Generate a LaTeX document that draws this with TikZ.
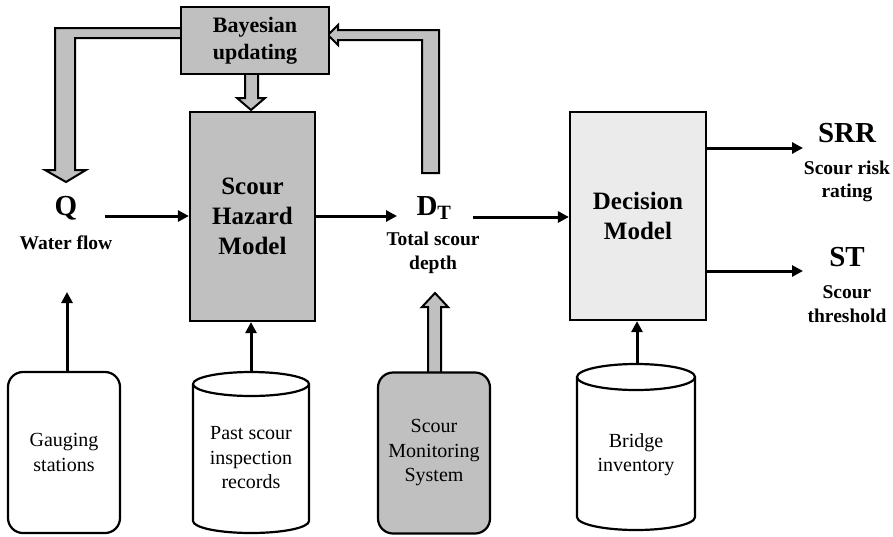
\documentclass[tikz,border=0pt]{standalone}
\usepackage{fontspec}
\setmainfont{Liberation Serif}
\usetikzlibrary{arrows.meta}
\definecolor{boxgray}{RGB}{192,192,192}
\definecolor{lightbox}{RGB}{235,235,235}
\tikzset{
  modelbox/.style={draw=black, line width=2.2pt, inner sep=0pt, align=center,
    font={\fontsize{25}{30}\selectfont\bfseries}},
  sourcebox/.style={draw=black, line width=2.2pt, rounded corners=15pt, inner sep=0pt,
    align=center, minimum width=112pt, minimum height=161pt,
    font={\fontsize{20}{24.5}\selectfont}},
  cyltext/.style={inner sep=0pt, align=center, font={\fontsize{20}{24.5}\selectfont}},
  biglabel/.style={inner sep=0pt, font={\fontsize{29}{32}\selectfont\bfseries}},
  smalllabel/.style={inner sep=0pt, align=center, font={\fontsize{19.5}{23.5}\selectfont\bfseries}},
  thinarrow/.style={line width=3pt, -{Triangle[length=11pt,width=11pt]}},
  fatarrow/.style={draw=black, fill=boxgray, line width=2pt, line join=miter},
  cylline/.style={draw=black, line width=2.2pt, fill=white}
}
\begin{document}
\begin{tikzpicture}[x=1pt,y=-1pt]
\useasboundingbox (0,0) rectangle (893,536);

% fat feedback arrows (drawn first, boxes cover their joints)
\filldraw[fatarrow] (181,28) -- (55,28) -- (55,170) -- (45,170) -- (66,182) -- (86,170) -- (75,170) -- (75,38) -- (181,38);
\filldraw[fatarrow] (422,173) -- (422,40) -- (338,40) -- (338,45) -- (328,35) -- (338,25) -- (338,30) -- (439,30) -- (439,173) -- cycle;
\filldraw[fatarrow] (245,74) -- (245,98) -- (237,98) -- (251,110) -- (265,98) -- (258,98) -- (258,74);
\filldraw[fatarrow] (428,372) -- (428,307) -- (422,307) -- (435,293) -- (448,307) -- (441,307) -- (441,372);

% main boxes
\node[modelbox, fill=boxgray, minimum width=148pt, minimum height=67pt,
      font={\fontsize{22}{27}\selectfont\bfseries}] (bayes) at (255,40.5) {Bayesian\\updating};
\node[modelbox, fill=boxgray, minimum width=125pt, minimum height=209pt] (hazard) at (252.5,216.5) {Scour\\Hazard\\Model};
\node[modelbox, fill=lightbox, minimum width=136pt, minimum height=208pt] (decision) at (638,216) {Decision\\Model};

% sources
\node[sourcebox] (gauge) at (64,452.5) {Gauging\\stations};
\node[sourcebox, fill=boxgray] (monitor) at (434,453) {Scour\\Monitoring\\System};

% cylinders
\path[cylline] (193,384) -- (193,521) arc[start angle=180, end angle=360, x radius=58pt, y radius=12pt] -- (309,384);
\draw[cylline] (251,384) ellipse [x radius=58pt, y radius=12pt];
\node[cyltext] (past) at (251,458) {Past scour\\inspection\\records};
\coordinate (pasttop) at (251,372);

\path[cylline] (577,377) -- (577,517) arc[start angle=180, end angle=360, x radius=59pt, y radius=13pt] -- (695,377);
\draw[cylline] (636,377) ellipse [x radius=59pt, y radius=13pt];
\node[cyltext] (bridge) at (636,454.5) {Bridge\\inventory};
\coordinate (bridgetop) at (637,364);

% variable labels
\node[biglabel] (Q) at (66,208) {Q};
\node[smalllabel] (qtxt) at (66,243) {Water flow};
\node[biglabel] (DT) at (434,208) {D\textsubscript{T}};
\node[smalllabel] (dttxt) at (433,253) {Total scour\\depth};
\node[biglabel] (SRR) at (847,133) {SRR};
\node[smalllabel] (srrtxt) at (847,181.5) {Scour risk\\rating};
\node[biglabel] (ST) at (847,257) {ST};
\node[smalllabel] (sttxt) at (847,304) {Scour\\threshold};

% connector endpoints
\coordinate (qout) at (105,216);
\coordinate (dtin) at (397,216);
\coordinate (dtout) at (473,217);
\coordinate (srrin) at (803,148);
\coordinate (stin) at (803,271);
\coordinate (qbelow) at (67,292);
\coordinate (gaugetop) at (67,372);

% thin arrows
\draw[thinarrow] (qout) -- (qout -| hazard.west);
\draw[thinarrow] (hazard.east |- dtin) -- (dtin);
\draw[thinarrow] (dtout) -- (dtout -| decision.west);
\draw[thinarrow] (decision.east |- srrin) -- (srrin);
\draw[thinarrow] (decision.east |- stin) -- (stin);
\draw[thinarrow] (gaugetop) -- (qbelow);
\draw[thinarrow] (pasttop) -- (pasttop |- hazard.south);
\draw[thinarrow] (bridgetop) -- (bridgetop |- decision.south);
\end{tikzpicture}
\end{document}
